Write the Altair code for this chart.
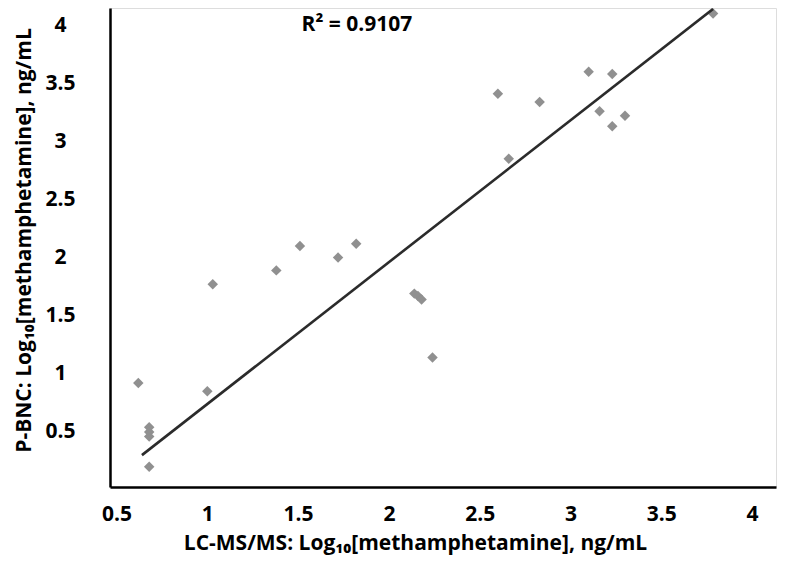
import altair as alt
import pandas as pd

# LC-MS/MS (x) vs P-BNC (y), Log10 concentrations
lcms = [0.62, 0.68, 0.68, 0.68, 0.68, 1.00, 1.03, 1.38, 1.51, 1.72, 1.82,
        2.14, 2.16, 2.18, 2.24, 2.60, 2.66, 2.83, 3.10, 3.16, 3.23, 3.23,
        3.30, 3.785]
pbnc = [0.92, 0.54, 0.50, 0.46, 0.20, 0.85, 1.77, 1.89, 2.10, 2.00, 2.12,
        1.69, 1.67, 1.64, 1.14, 3.41, 2.85, 3.34, 3.60, 3.26, 3.58, 3.13,
        3.22, 4.10]

# linear trendline endpoints
trend_x = [0.64, 3.785]
trend_y = [0.30, 4.14]

r2_label = ["R\u00b2 = 0.9107"]
r2_x = [1.824]
r2_y = [4.0]

x_ticks = [0.5, 1, 1.5, 2, 2.5, 3, 3.5, 4]
y_ticks = [0.5, 1, 1.5, 2, 2.5, 3, 3.5, 4]

pts = pd.DataFrame({"x": lcms, "y": pbnc})
trend = pd.DataFrame({"x": trend_x, "y": trend_y})
ann = pd.DataFrame({"x": r2_x, "y": r2_y, "t": r2_label})

FONT = "Open Sans"

xscale = alt.Scale(domain=[0.4642, 4.1316], nice=False, zero=False)
yscale = alt.Scale(domain=[0.0258, 4.148], nice=False, zero=False)

xaxis = alt.Axis(
    values=x_ticks, format="~g", grid=False, ticks=False, tickSize=0,
    domainColor="black", domainWidth=2.5,
    labelFont=FONT, labelFontSize=21, labelFontWeight="bold", labelColor="black",
    labelPadding=27, labelBaseline="middle", labelAlign="center",
    title="LC-MS/MS: Log\u2081\u2080[methamphetamine], ng/mL",
    titleFont=FONT, titleFontSize=21, titleFontWeight="bold", titleColor="black",
    titleX=305, titleY=56, titleBaseline="middle", titleAlign="center",
)
yaxis = alt.Axis(
    values=y_ticks, format="~g", grid=False, ticks=False, tickSize=0,
    domainColor="black", domainWidth=2.5,
    labelFont=FONT, labelFontSize=21, labelFontWeight="bold", labelColor="black",
    labelPadding=50, labelBaseline="middle", labelAlign="center",
    title="P-BNC: Log\u2081\u2080[methamphetamine], ng/mL",
    titleFont=FONT, titleFontSize=21, titleFontWeight="bold", titleColor="black",
    titleX=-86, titleY=232, titleAngle=-90, titleBaseline="middle", titleAlign="center",
)

points = alt.Chart(pts).mark_point(
    shape="diamond", filled=True, size=110, color="#909090", opacity=1
).encode(
    x=alt.X("x:Q", scale=xscale, axis=xaxis),
    y=alt.Y("y:Q", scale=yscale, axis=yaxis),
)

line = alt.Chart(trend).mark_line(color="#2b2b2b", strokeWidth=2.6).encode(
    x=alt.X("x:Q", scale=xscale),
    y=alt.Y("y:Q", scale=yscale),
)

text = alt.Chart(ann).mark_text(
    font=FONT, fontSize=21, fontWeight="bold", color="black",
    align="center", baseline="middle"
).encode(
    x=alt.X("x:Q", scale=xscale),
    y=alt.Y("y:Q", scale=yscale),
    text="t:N",
)

chart = alt.layer(points, line, text).properties(
    width=666, height=479,
    autosize=alt.AutoSizeParams(type="none"),
    padding={"left": 102, "top": 0, "right": 16, "bottom": 71},
).configure_view(stroke=None).configure(background="white")

chart.save("out.html", embed_options={"renderer": "svg", "actions": False})
